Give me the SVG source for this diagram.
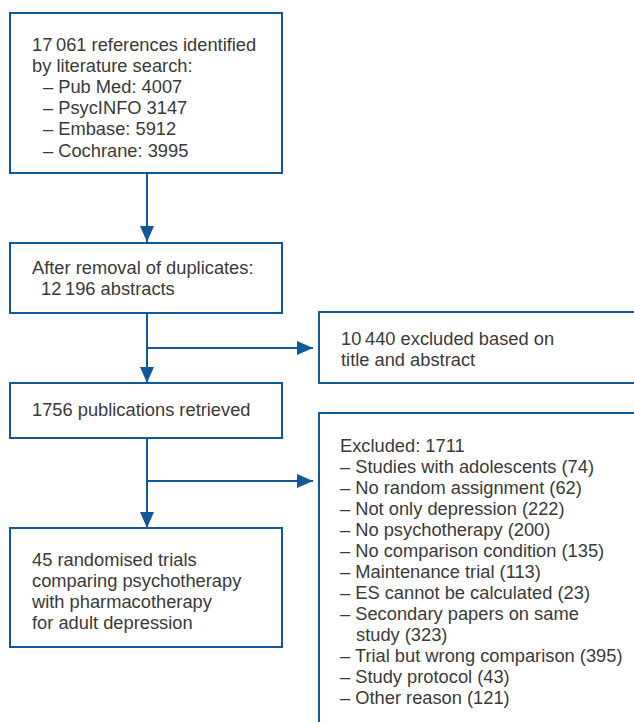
<svg xmlns="http://www.w3.org/2000/svg" width="634" height="722" viewBox="0 0 634 722">
<defs>
<style>
.box{fill:#fff;stroke:#11599a;stroke-width:2}
.ln{stroke:#11599a;stroke-width:2;fill:none}
text{font-family:"Liberation Sans",Arial,sans-serif;font-size:18.3px;fill:#3a3a3a}
</style>
<marker id="ah" markerWidth="16" markerHeight="16" refX="16" refY="8" orient="auto" markerUnits="userSpaceOnUse">
<path d="M0,1 L16,8 L0,15 Z" fill="#11599a"/>
</marker>
</defs>
<rect width="634" height="722" fill="#fff"/>
<g id="connectors">
<line class="ln" x1="147" y1="173" x2="147" y2="242" marker-end="url(#ah)"/>
<line class="ln" x1="147" y1="313" x2="147" y2="383" marker-end="url(#ah)"/>
<line class="ln" x1="147" y1="348" x2="313" y2="348" marker-end="url(#ah)"/>
<line class="ln" x1="147" y1="438" x2="147" y2="528" marker-end="url(#ah)"/>
<line class="ln" x1="147" y1="481" x2="313" y2="481" marker-end="url(#ah)"/>
</g>
<g id="n1">
<rect class="box" x="10" y="13" width="272" height="160"/>
<text x="32" y="51">17&#8201;061 references identified</text>
<text x="32" y="72">by literature search:</text>
<text x="43" y="93">– Pub Med: 4007</text>
<text x="43" y="114">– PsycINFO 3147</text>
<text x="43" y="135">– Embase: 5912</text>
<text x="43" y="157">– Cochrane: 3995</text>
</g>
<g id="n2">
<rect class="box" x="10" y="243" width="272" height="70"/>
<text x="32" y="274">After removal of duplicates:</text>
<text x="41" y="295">12&#8201;196 abstracts</text>
</g>
<g id="n3">
<rect class="box" x="319" y="312" width="320" height="71"/>
<text x="341" y="345">10&#8201;440 excluded based on</text>
<text x="341" y="366">title and abstract</text>
</g>
<g id="n4">
<rect class="box" x="10" y="383" width="272" height="55"/>
<text x="32" y="416">1756 publications retrieved</text>
</g>
<g id="n5">
<rect class="box" x="319" y="413" width="320" height="320"/>
<text x="340" y="452">Excluded: 1711</text>
<text x="340" y="473">– Studies with adolescents (74)</text>
<text x="340" y="494">– No random assignment (62)</text>
<text x="340" y="515">– Not only depression (222)</text>
<text x="340" y="536">– No psychotherapy (200)</text>
<text x="340" y="557">– No comparison condition (135)</text>
<text x="340" y="578">– Maintenance trial (113)</text>
<text x="340" y="599">– ES cannot be calculated (23)</text>
<text x="340" y="620">– Secondary papers on same</text>
<text x="356" y="641">study (323)</text>
<text x="340" y="662">– Trial but wrong comparison (395)</text>
<text x="340" y="683">– Study protocol (43)</text>
<text x="340" y="704">– Other reason (121)</text>
</g>
<g id="n6">
<rect class="box" x="10" y="528" width="272" height="119"/>
<text x="32" y="566">45 randomised trials</text>
<text x="32" y="587">comparing psychotherapy</text>
<text x="32" y="608">with pharmacotherapy</text>
<text x="32" y="629">for adult depression</text>
</g>
</svg>
